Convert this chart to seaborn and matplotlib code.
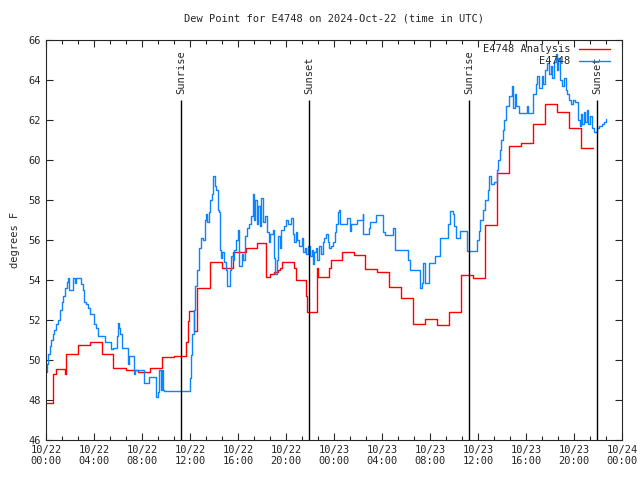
import pandas as pd
import numpy as np
import matplotlib
matplotlib.use('Agg')
import matplotlib.pyplot as plt
import matplotlib.dates as mdates
from matplotlib.ticker import AutoMinorLocator, MultipleLocator
import seaborn as sns

# analysis (red) - hours since 10/22 00:00 UTC and dew point
analysis_hours = [0.1, 0.6, 0.8, 1.6, 1.7, 2.7, 3.7, 4.65, 5.6, 6.65, 7.7, 8.65, 9.65,
                  10.7, 11.7, 11.85, 11.95, 12.3, 12.6, 13.7, 14.65, 15.6, 16.65, 17.6,
                  18.3, 18.7, 19.0, 19.3, 19.5, 19.7, 20.7, 20.8, 21.7, 21.75, 22.6, 22.7,
                  23.6, 23.75, 24.65, 25.65, 26.6, 27.6, 28.6, 29.6, 30.6, 31.6, 32.6,
                  33.6, 34.6, 35.6, 36.6, 37.6, 38.6, 39.6, 40.6, 41.6, 42.55, 43.6,
                  44.6, 45.6]
analysis_vals = [47.85, 49.3, 49.55, 49.3, 50.3, 50.75, 50.9, 50.3, 49.6, 49.5, 49.38, 49.6,
                 50.13, 50.18, 50.9, 51.95, 52.45, 51.45, 53.6, 54.9, 54.6, 55.4, 55.6,
                 55.85, 54.15, 54.3, 54.4, 54.5, 54.6, 54.9, 54.6, 54.0, 53.2, 52.4, 54.6,
                 54.15, 54.6, 55.0, 55.4, 55.25, 54.55, 54.4, 53.65, 53.1, 51.8, 52.05,
                 51.75, 52.4, 54.25, 54.1, 56.75, 59.35, 60.7, 60.85, 61.8, 62.8, 62.4,
                 61.6, 60.6, 60.6]

# station obs (blue)
obs_hours = [0.0, 0.1, 0.2, 0.3, 0.4, 0.55, 0.7, 0.85, 1.0, 1.15, 1.3, 1.45, 1.6, 1.75,
             1.85, 1.95, 2.25, 2.4, 2.5, 2.8, 2.95, 3.1, 3.2, 3.35, 3.5, 3.65, 3.85, 4.0,
             4.2, 4.35, 4.6, 4.95, 5.2, 5.45, 5.6, 5.9, 5.95, 6.0, 6.1, 6.2, 6.35, 6.8,
             6.85, 6.95, 7.2, 7.3, 7.4, 7.9, 8.2, 8.6, 9.1, 9.2, 9.3, 9.45, 9.55, 9.65,
             9.75, 9.8, 12.0, 12.05, 12.1, 12.2, 12.3, 12.45, 12.6, 12.75, 12.9, 13.1,
             13.25, 13.35, 13.45, 13.55, 13.7, 13.8, 13.95, 14.05, 14.15, 14.3, 14.4,
             14.5, 14.6, 14.7, 14.85, 15.0, 15.1, 15.3, 15.45, 15.6, 15.7, 15.85, 16.0,
             16.1, 16.3, 16.45, 16.6, 16.75, 16.9, 17.1, 17.25, 17.35, 17.45, 17.55,
             17.7, 17.85, 17.95, 18.1, 18.25, 18.4, 18.55, 18.7, 18.9, 19.0, 19.1,
             19.25, 19.35, 19.5, 19.6, 19.8, 20.0, 20.2, 20.4, 20.55, 20.7, 20.85,
             20.95, 21.1, 21.3, 21.4, 21.55, 21.7, 21.85, 22.0, 22.15, 22.25, 22.35,
             22.5, 22.6, 22.75, 22.9, 23.05, 23.2, 23.35, 23.5, 23.6, 23.75, 23.9,
             24.05, 24.2, 24.35, 24.45, 24.5, 25.05, 25.35, 25.45, 25.9, 26.4, 26.45,
             26.9, 27.0, 27.5, 28.05, 28.25, 28.9, 29.05, 30.2, 30.3, 31.15, 31.2,
             31.3, 31.45, 31.6, 31.95, 32.4, 32.8, 33.5, 33.7, 33.9, 34.0, 34.2, 34.5,
             35.05, 35.9, 36.1, 36.2, 36.4, 36.6, 36.85, 36.95, 37.05, 37.3, 37.55,
             37.7, 37.85, 37.95, 38.05, 38.2, 38.35, 38.6, 38.85, 38.95, 39.05, 39.2,
             39.4, 40.05, 40.2, 40.6, 40.8, 40.95, 41.1, 41.3, 41.45, 41.6, 41.75,
             41.9, 42.05, 42.2, 42.35, 42.5, 42.6, 42.7, 42.85, 43.0, 43.15, 43.3,
             43.45, 43.6, 43.75, 43.9, 44.1, 44.35, 44.5, 44.6, 44.7, 44.8, 44.95,
             45.1, 45.2, 45.35, 45.5, 45.7, 45.9, 46.1, 46.3, 46.5, 46.7]
obs_vals = [49.4, 49.8, 50.3, 50.7, 51.0, 51.3, 51.5, 51.8, 52.0, 52.5, 52.9, 53.2, 53.6,
            53.9, 54.1, 53.5, 54.1, 53.85, 54.1, 54.1, 53.8, 53.5, 52.9, 52.8, 52.6,
            52.3, 52.3, 51.8, 51.6, 51.2, 51.2, 50.9, 50.9, 50.55, 50.6, 50.6, 51.2,
            51.85, 51.6, 51.3, 50.6, 50.55, 49.8, 50.2, 50.2, 49.3, 49.5, 49.5, 48.85,
            49.15, 49.15, 48.15, 48.4, 49.5, 48.5, 49.5, 48.5, 48.45, 49.1, 49.7, 50.25,
            51.3, 52.5, 53.7, 54.5, 55.6, 56.1, 56.0, 57.0, 57.3, 56.9, 57.4, 58.0,
            58.3, 59.2, 58.7, 58.5, 57.5, 57.4, 55.5, 55.1, 55.4, 54.9, 54.5, 53.7,
            54.5, 55.2, 55.0, 55.5, 56.0, 56.5, 54.7, 55.3, 55.0, 56.2, 56.6, 56.8,
            57.2, 58.3, 57.0, 58.0, 56.8, 57.7, 56.7, 58.1, 56.9, 57.2, 56.4, 55.9,
            56.3, 56.5, 55.1, 54.3, 55.0, 56.2, 55.6, 56.5, 56.7, 57.0, 56.8, 57.1,
            56.3, 55.9, 56.4, 56.0, 55.7, 56.1, 55.4, 55.6, 55.3, 55.7, 55.2, 55.5,
            54.8, 55.4, 55.6, 55.0, 55.7, 55.3, 55.9, 56.1, 56.3, 55.9, 55.6, 55.7,
            55.9, 56.4, 56.8, 57.4, 57.5, 56.8, 57.1, 56.45, 56.8, 57.0, 57.3, 56.3,
            56.6, 56.9, 57.25, 56.4, 56.25, 56.6, 55.5, 55.0, 54.5, 54.0, 53.6, 53.85,
            54.85, 53.85, 54.85, 55.2, 56.1, 56.8, 57.45, 57.3, 56.7, 56.1, 56.45,
            55.45, 56.0, 56.45, 57.0, 57.5, 58.0, 58.5, 59.2, 58.8, 58.9, 59.5, 60.0,
            60.5, 61.0, 61.5, 62.0, 62.7, 63.2, 63.7, 62.6, 63.3, 62.7, 62.35, 62.7,
            62.35, 63.3, 63.8, 64.2, 63.6, 64.2, 63.8, 64.5, 64.85, 64.3, 64.7, 64.1,
            64.9, 65.3, 64.5, 65.1, 64.0, 63.7, 64.1, 63.5, 63.3, 63.0, 62.8, 63.0,
            62.9, 62.0, 61.7, 62.3, 61.8, 62.4, 61.9, 62.5, 61.8, 62.2, 61.6, 61.4,
            61.6, 61.7, 61.8, 61.9, 62.05]

sun_hours = [11.25, 21.92, 35.25, 45.92]
sun_labels = ['Sunrise', 'Sunset', 'Sunrise', 'Sunset']

t0 = pd.Timestamp('2024-10-22 00:00')
df_an = pd.DataFrame({'time': t0 + pd.to_timedelta(analysis_hours, unit='h'), 'dewpt': analysis_vals})
df_ob = pd.DataFrame({'time': t0 + pd.to_timedelta(obs_hours, unit='h'), 'dewpt': obs_vals})

sns.set_style('ticks')
plt.rcParams['font.family'] = ['DejaVu Sans Mono']

fig = plt.figure(figsize=(6.4, 4.8), dpi=100)
ax = fig.add_axes([46 / 640, 40 / 480, 576 / 640, 400 / 480])

sns.lineplot(data=df_an, x='time', y='dewpt', color='#ff0000', lw=1.0,
             drawstyle='steps-post', label='E4748 Analysis', ax=ax)
sns.lineplot(data=df_ob, x='time', y='dewpt', color='#0a84ff', lw=1.0,
             drawstyle='steps-post', label='E4748', ax=ax)

for h, lab in zip(sun_hours, sun_labels):
    t = t0 + pd.Timedelta(hours=h)
    ax.vlines(t, 46, 63.0, color='black', lw=1)
    ax.text(t, 63.3, lab, rotation=90, ha='center', va='bottom', fontsize=7.5)

ax.set_xlim(t0, t0 + pd.Timedelta(hours=48))
ax.set_ylim(46, 66)
ax.yaxis.set_major_locator(MultipleLocator(2))
ax.xaxis.set_major_locator(mdates.HourLocator(byhour=range(0, 24, 4)))
ax.xaxis.set_major_formatter(mdates.DateFormatter('%m/%d\n%H:%M'))
ax.xaxis.set_minor_locator(AutoMinorLocator(3))
ax.tick_params(which='both', direction='in', top=True, right=True, labelsize=7.5, width=0.8)
ax.tick_params(which='major', length=5)
ax.tick_params(which='minor', length=3)
for s in ax.spines.values():
    s.set_linewidth(0.8)

ax.set_xlabel('')
ax.set_ylabel('degrees F', fontsize=7.5, labelpad=6)
ax.set_title('Dew Point for E4748 on 2024-Oct-22 (time in UTC)', fontsize=7.5, pad=13)

ax.legend(loc='upper right', bbox_to_anchor=(0.99, 1.005), frameon=False, markerfirst=False,
          fontsize=7.5, handlelength=3.0, borderaxespad=0.2, labelspacing=0.2)

fig.savefig('out.png', dpi=100)
